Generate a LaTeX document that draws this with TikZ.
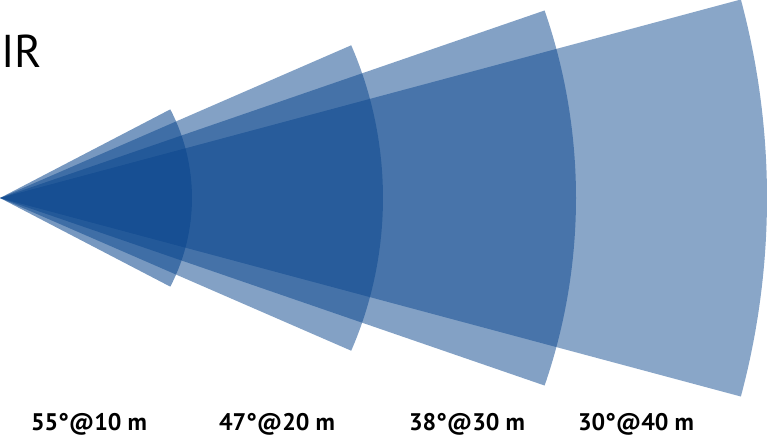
\documentclass[tikz,border=0pt]{standalone}
\usepackage{fontspec}
\setmainfont{PT Sans}
\usepackage{tikz}
\usetikzlibrary{positioning}

\definecolor{irblue}{RGB}{8,68,140}

\tikzset{
	beam/.style={fill=irblue, fill opacity=#1},
	rangelabel/.style={anchor=base, font=\fontsize{24}{28}\selectfont\bfseries, inner sep=0pt},
}

\begin{document}
\begin{tikzpicture}[y=-1pt,x=1pt]
	\newcommand\Sector[2]{-- ++(-#1:#2) arc[start angle=-#1, end angle=#1, radius=#2] -- cycle}

	\useasboundingbox (0,0) rectangle (769,436);
	\coordinate (apex) at (0,198);

	% field of view, far to near
	\fill[beam=0.48] (apex) \Sector{15}{767};
	\fill[beam=0.5] (apex) \Sector{19}{576};
	\fill[beam=0.5] (apex) \Sector{23.5}{383};
	\fill[beam=0.55] (apex) \Sector{27.5}{192};

	\node[anchor=base west, inner sep=0pt, font=\fontsize{46}{50}\selectfont] (title) at (1,67) {IR};

	\node[rangelabel] (r10) at (89,430) {55°@10 m};
	\node[rangelabel] (r20) at (277,430) {47°@20 m};
	\node[rangelabel] (r30) at (467,430) {38°@30 m};
	\node[rangelabel] (r40) at (636,430) {30°@40 m};
\end{tikzpicture}
\end{document}
